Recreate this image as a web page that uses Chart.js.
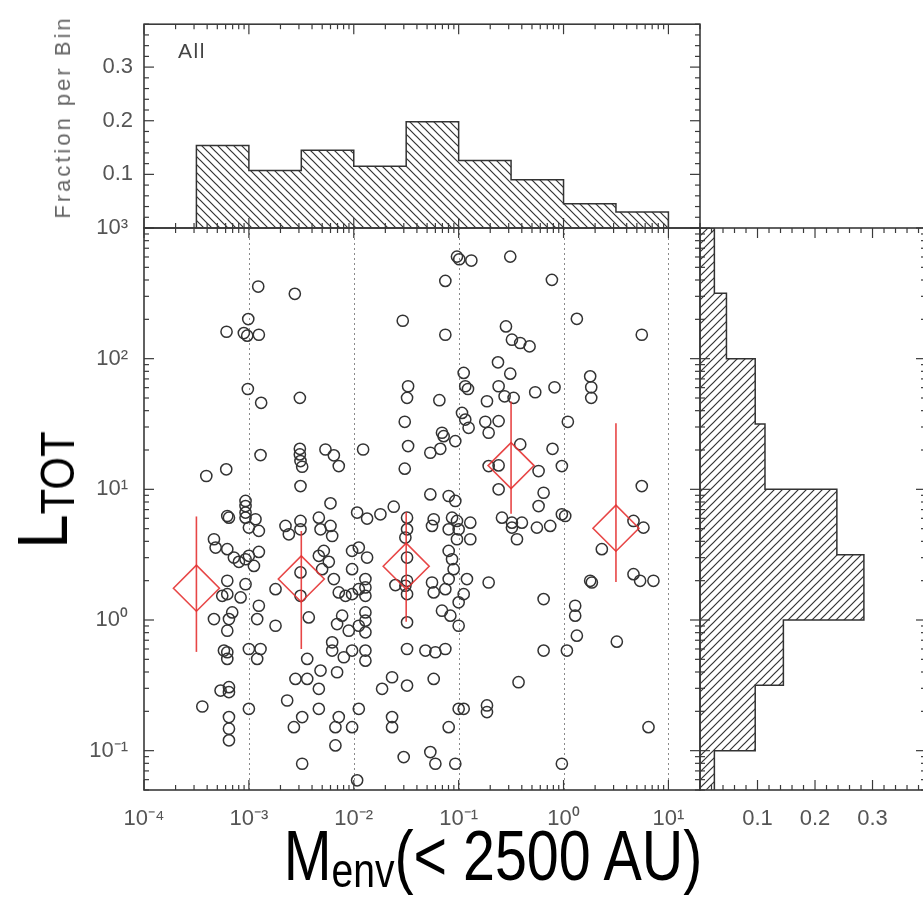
<!DOCTYPE html>
<html>
<head>
<meta charset="utf-8">
<script src="https://cdn.jsdelivr.net/npm/chart.js@4.4.1/dist/chart.umd.min.js"></script>
<style>
  html, body { margin: 0; padding: 0; background: #fff; }
  #wrap { position: relative; width: 923px; height: 910px; overflow: hidden; background: #fff; }
  #wrap canvas { position: absolute; left: 0; top: 0; }
  .lbl { position: absolute; white-space: nowrap; line-height: 1; font-family: 'Liberation Sans', Arial, sans-serif; }
  .sub { font-size: 0.68em; position: relative; top: 0.14em; }
  #allLbl { left: 178px; top: 40px; font-size: 21px; letter-spacing: 1.5px; color: #444; }
  #fracLbl { left: 63px; top: 117px; font-size: 22px; letter-spacing: 3px; color: #666;
             transform: translate(-50%, -50%) rotate(-90deg); }
  #yTitle { left: 43px; top: 490px; font-size: 70px; color: #000;
            transform: translate(-50%, -50%) rotate(-90deg) scaleX(0.88); }
  #xTitle { left: 493px; top: 821px; font-size: 70px; color: #000;
            transform: translateX(-50%) scaleX(0.82); }
</style>
</head>
<body>
<div id="wrap">
  <canvas id="topChart" width="923" height="910"></canvas>
  <canvas id="mainChart" width="923" height="910"></canvas>
  <canvas id="rightChart" width="930" height="910"></canvas>
  <div class="lbl" id="allLbl">All</div>
  <div class="lbl" id="fracLbl">Fraction per Bin</div>
  <div class="lbl" id="yTitle">L<span class="sub">TOT</span></div>
  <div class="lbl" id="xTitle">M<span class="sub">env</span>(&lt; 2500 AU)</div>
</div>
<script>
// Точки: log10 Menv и log10 Ltot
const menvLog = [
  // верх слева
  -2.911, -2.562, -3.006, -3.213, -3.048, -3.016, -2.905, -3.010, -2.883, -2.514,
  -2.889, -2.514, -2.514, -2.508, -2.492, -2.270, -2.190, -2.143, -1.911, -3.216,
  -3.406,
  // верх справа
  -1.016, -0.994, -0.879, -0.508, -1.127, -0.111, -1.533, -1.127, 0.127, 0.746,
  -0.549, -0.492, -0.413, -0.324, -0.625, -0.508, -0.952, -0.937, -0.911, -1.482,
  -1.492, -1.184, -0.730, -0.619, -0.562, -0.476, -0.270, -0.086, 0.254, 0.264,
  0.264, -1.514, -0.968, -0.937, -0.905, -0.746, -0.714, -0.619, 0.041, -1.159,
  -1.143, -1.032, -1.270, -1.175, -1.482, -1.514, -0.714, -0.619, -0.413, -0.105,
  -0.016, -0.238,
  // низ слева
  -2.508, -2.222, -3.032, -3.032, -3.032, -3.032, -3.206, -3.190, -2.937, -2.905,
  -3.000, -2.651, -2.619, -2.508, -2.508, -2.333, -2.317, -2.222, -2.206, -1.968,
  -1.873, -1.746, -1.619, -3.333, -3.317, -3.206, -3.143, -3.095, -3.032, -3.000,
  -2.952, -2.905, -2.333, -2.286, -2.238, -2.302, -2.190, -2.016, -1.952, -1.873,
  -2.016, -1.889, -3.206, -3.032, -3.254, -3.206, -3.079, -2.746, -2.508, -2.508,
  -2.429, -2.143, -2.079, -2.016, -1.952, -1.889, -1.889, -2.905, -2.921, -3.333,
  -3.159, -3.190, -3.206, -2.746, -2.159, -2.111, -2.048, -1.952, -1.889, -1.889,
  -1.889, -3.238, -3.206, -3.206, -3.000, -2.889, -2.921, -2.206, -2.206, -2.095,
  -2.016, -1.889, -1.889, -2.444, -2.556, -2.444, -2.317, -2.333, -2.159, -3.270,
  -3.190, -3.190, -3.444, -3.000, -2.635, -2.492, -2.571, -2.333, -2.143, -2.175,
  -2.016, -1.952, -2.175, -3.190, -3.190, -3.190, -2.492, -1.968, -1.492, -1.492,
  -1.508, -1.492, -1.492, -1.508, -1.492, -1.492, -1.492, -1.603, -1.317, -1.222,
  -1.635, -1.730, -1.492, -1.635, -1.635, -1.524, -1.270, -1.222, -1.238, -1.254,
  -1.238, -1.254, -1.238, -1.270,
  // низ справа
  -1.095, -1.032, -1.063, -1.016, -1.095, -1.000, -0.889, -1.016, -0.889, -1.095,
  -1.063, -1.048, -1.095, -0.921, -1.127, -0.952, -1.000, -1.159, -1.079, -1.000,
  -0.714, -0.619, -0.587, -0.492, -0.492, -0.397, -0.444, -0.254, -0.127, -0.238,
  -0.190, -0.016, 0.016, -0.190, 0.032, -0.190, 0.111, 0.111, 0.127, -0.429,
  -1.000, -0.952, -0.730, -0.730, -1.095, -1.032, -0.016, 0.365, 0.254, 0.270,
  0.667, 0.762, 0.746, 0.667, 0.730, 0.857, 0.508, 0.810, -1.127
];
const ltotLog = [
  2.552, 2.496, 2.303, 2.206, 2.196, 2.176, 2.183, 1.768, 1.662, 1.700,
  1.262, 1.310, 1.267, 1.216, 1.173, 1.305, 1.260, 1.178, 1.305, 1.153,
  1.102,
  2.781, 2.761, 2.751, 2.781, 2.595, 2.603, 2.290, 2.183, 2.305, 2.183,
  2.247, 2.145, 2.120, 2.094, 1.972, 1.885, 1.891, 1.789, 1.768, 1.789,
  1.700, 1.682, 1.674, 1.789, 1.712, 1.700, 1.743, 1.781, 1.865, 1.781,
  1.700, 1.517, 1.585, 1.534, 1.471, 1.517, 1.433, 1.522, 1.517, 1.433,
  1.407, 1.369, 1.280, 1.310, 1.331, 1.158, 1.178, 1.183, 1.344, 1.310,
  1.178, 1.140,
  1.025, 0.893, 0.911, 0.872, 0.822, 0.783, 0.796, 0.783, 0.771, 0.682,
  0.707, 0.720, 0.656, 0.758, 0.694, 0.783, 0.694, 0.720, 0.643, 0.822,
  0.776, 0.809, 0.867, 0.618, 0.554, 0.542, 0.478, 0.445, 0.465, 0.491,
  0.414, 0.521, 0.491, 0.529, 0.445, 0.389, 0.313, 0.529, 0.554, 0.478,
  0.389, 0.313, 0.300, 0.274, 0.185, 0.198, 0.173, 0.236, 0.364, 0.185,
  0.020, 0.211, 0.185, 0.198, 0.236, 0.185, 0.249, 0.109, 0.007, 0.007,
  0.058, 0.007, -0.082, -0.044, -0.031, 0.033, -0.082, -0.044, 0.058, -0.005,
  -0.094, -0.234, -0.247, -0.298, -0.222, -0.222, -0.298, -0.171, -0.234, -0.285,
  -0.234, -0.234, -0.311, -0.298, -0.451, -0.451, -0.387, -0.527, -0.400, -0.540,
  -0.514, -0.552, -0.662, -0.680, -0.616, -0.743, -0.820, -0.680, -0.743, -0.820,
  -0.820, -0.680, -0.960, -0.743, -0.832, -0.921, -1.100, -1.227, 0.783, 0.694,
  0.631, 0.478, 0.300, 0.262, 0.198, -0.018, -0.222, 0.267, -0.234, -0.247,
  -0.438, -0.527, -0.502, -0.743, -0.820, -1.049, -1.011, -1.100, -0.451, 0.287,
  0.211, 0.720, 0.771, 0.961,
  0.949, 0.911, 0.783, 0.758, 0.694, 0.694, 0.745, 0.618, 0.618, 0.529,
  0.465, 0.389, 0.313, 0.313, 0.236, 0.198, 0.135, 0.071, 0.033, -0.044,
  0.287, 1.000, 0.783, 0.745, 0.707, 0.745, 0.618, 0.707, 0.720, 0.872,
  0.974, 0.809, 0.796, 0.160, -0.234, -0.234, 0.109, 0.033, -0.120, -0.476,
  -0.680, -0.680, -0.654, -0.705, -0.820, -1.100, -1.100, 0.542, 0.300, 0.287,
  0.758, 0.707, 1.025, 0.351, 0.300, 0.300, -0.166, -0.820, -0.222
];

// Медианы по бинам (красные ромбы) и разброс
const binCentres = [3.16e-4, 3.16e-3, 0.0316, 0.316, 3.16];
const medianL = [1.75, 2.06, 2.58, 15.2, 5.04];
const errLow = [0.57, 0.60, 0.97, 6.5, 1.95];
const errHigh = [6.2, 4.8, 6.7, 47, 32];

// Гистограммы
const mBinEdges = [3.16e-4, 1e-3, 3.16e-3, 1e-2, 3.16e-2, 0.1, 0.316, 1, 3.16, 10];
const mFraction = [0.154, 0.107, 0.145, 0.115, 0.198, 0.126, 0.090, 0.045, 0.030];
const lBinEdges = [0.0316, 0.1, 0.316, 1, 3.16, 10, 31.6, 100, 316, 1000];
const lFraction = [0.025, 0.096, 0.145, 0.285, 0.238, 0.113, 0.096, 0.046, 0.025];

// Подписи осей
const xTickValues = [1e-4, 1e-3, 1e-2, 1e-1, 1, 10];
const xTickLabels = ['10⁻⁴', '10⁻³', '10⁻²', '10⁻¹', '10⁰', '10¹'];
const yTickValues = [0.1, 1, 10, 100, 1000];
const yTickLabels = ['10⁻¹', '10⁰', '10¹', '10²', '10³'];
const fracTickValues = [0.1, 0.2, 0.3];
const fracTickLabels = ['0.1', '0.2', '0.3'];
const gridDecades = [1e-3, 1e-2, 1e-1, 1, 10];

const ink = '#333';
const red = 'rgba(228, 50, 50, 0.9)';
const tickFont = { family: "'Liberation Sans', Arial, sans-serif", size: 22 };
const tickColor = '#555';

// Штриховка
function hatch(canvasId, dir) {
  const c = document.createElement('canvas');
  c.width = 8; c.height = 8;
  const g = c.getContext('2d');
  g.strokeStyle = ink;
  g.lineWidth = 1.2;
  g.beginPath();
  if (dir === 'down') {
    g.moveTo(-1, -1); g.lineTo(9, 9);
    g.moveTo(-1, 7); g.lineTo(1, 9);
    g.moveTo(7, -1); g.lineTo(9, 1);
  } else {
    g.moveTo(-1, 9); g.lineTo(9, -1);
    g.moveTo(-1, 1); g.lineTo(1, -1);
    g.moveTo(7, 9); g.lineTo(9, 7);
  }
  g.stroke();
  return document.getElementById(canvasId).getContext('2d').createPattern(c, 'repeat');
}

// Засечки внутрь рамки в стиле IDL
function tickMarks(scale, minorStep, majorStep) {
  const out = [];
  if (scale.type === 'logarithmic') {
    const lo = Math.floor(Math.log10(scale.min));
    const hi = Math.ceil(Math.log10(scale.max));
    for (let e = lo; e <= hi; e++) {
      for (let k = 1; k <= 9; k++) {
        const v = k * Math.pow(10, e);
        if (v >= scale.min * 0.9999 && v <= scale.max * 1.0001) {
          out.push({ px: scale.getPixelForValue(v), major: k === 1 });
        }
      }
    }
  } else {
    const n = Math.floor((scale.max - scale.min) / minorStep + 1e-6);
    for (let i = 0; i <= n; i++) {
      const v = scale.min + i * minorStep;
      const r = v / majorStep;
      out.push({ px: scale.getPixelForValue(v), major: Math.abs(r - Math.round(r)) < 1e-6 });
    }
  }
  return out;
}

const idlFrame = {
  id: 'idlFrame',
  beforeDatasetsDraw(chart, args, opts) {
    if (!opts.decades) return;
    const { ctx, chartArea: a } = chart;
    const xs = chart.scales.x;
    ctx.save();
    ctx.strokeStyle = '#8a8a8a';
    ctx.lineWidth = 1;
    ctx.setLineDash([2, 3]);
    opts.decades.forEach(v => {
      const px = Math.round(xs.getPixelForValue(v)) + 0.5;
      ctx.beginPath();
      ctx.moveTo(px, a.top);
      ctx.lineTo(px, a.bottom);
      ctx.stroke();
    });
    ctx.restore();
  },
  afterDatasetsDraw(chart, args, opts) {
    const { ctx, chartArea: a, scales } = chart;
    const seg = (x1, y1, x2, y2) => {
      ctx.beginPath(); ctx.moveTo(x1, y1); ctx.lineTo(x2, y2); ctx.stroke();
    };
    ctx.save();
    ctx.strokeStyle = '#3a3a3a';
    ctx.lineWidth = 1.2;
    tickMarks(scales.x, opts.xMinor, opts.xMajor).forEach(t => {
      const l = t.major ? 10 : 5;
      seg(t.px, a.bottom, t.px, a.bottom - l);
      seg(t.px, a.top, t.px, a.top + l);
    });
    tickMarks(scales.y, opts.yMinor, opts.yMajor).forEach(t => {
      const l = t.major ? 10 : 5;
      seg(a.left, t.px, a.left + l, t.px);
      seg(a.right, t.px, a.right - l, t.px);
    });
    ctx.lineWidth = 1.6;
    ctx.strokeRect(a.left, a.top, a.right - a.left, a.bottom - a.top);
    ctx.restore();
  }
};

const baseOptions = {
  responsive: false,
  animation: false,
  events: [],
  plugins: { legend: { display: false }, tooltip: { enabled: false } }
};

// Верхняя гистограмма
const topSteps = [{ x: mBinEdges[0], y: 0 }];
mFraction.forEach((f, i) => {
  topSteps.push({ x: mBinEdges[i], y: f });
  topSteps.push({ x: mBinEdges[i + 1], y: f });
});
topSteps.push({ x: mBinEdges[mBinEdges.length - 1], y: 0 });

new Chart(document.getElementById('topChart'), {
  type: 'line',
  data: {
    datasets: [{
      data: topSteps,
      borderColor: ink,
      borderWidth: 1.5,
      pointRadius: 0,
      fill: 'origin',
      backgroundColor: hatch('topChart', 'down')
    }]
  },
  options: {
    ...baseOptions,
    layout: { padding: { left: 0, top: 8, right: 223, bottom: 682 } },
    plugins: { ...baseOptions.plugins, idlFrame: { yMinor: 0.02, yMajor: 0.1 } },
    scales: {
      x: { type: 'logarithmic', min: 1e-4, max: 20, display: false },
      y: {
        type: 'linear', min: 0, max: 0.38,
        afterFit: s => { s.width = 144; },
        afterBuildTicks: s => { s.ticks = fracTickValues.map(v => ({ value: v })); },
        grid: { display: false, drawTicks: false },
        border: { display: false },
        ticks: { callback: (v, i) => fracTickLabels[i], font: tickFont, color: tickColor, padding: 11 }
      }
    }
  },
  plugins: [idlFrame]
});

// Основная диаграмма рассеяния
const points = menvLog.map((m, i) => ({ x: Math.pow(10, m), y: Math.pow(10, ltotLog[i]) }));
const errorBars = binCentres.map((x, i) => ({
  data: [{ x: x, y: errLow[i] }, { x: x, y: errHigh[i] }],
  showLine: true,
  borderColor: red,
  borderWidth: 1.6,
  pointRadius: 0,
  order: 0
}));

new Chart(document.getElementById('mainChart'), {
  type: 'scatter',
  data: {
    datasets: [
      {
        data: binCentres.map((x, i) => ({ x: x, y: medianL[i] })),
        pointStyle: 'rectRot',
        pointRadius: 23,
        borderColor: red,
        borderWidth: 1.6,
        backgroundColor: 'rgba(0,0,0,0)',
        order: 0
      },
      ...errorBars,
      {
        data: points,
        pointStyle: 'circle',
        pointRadius: 5.6,
        borderColor: ink,
        borderWidth: 1.5,
        backgroundColor: 'rgba(0,0,0,0)',
        order: 1
      }
    ]
  },
  options: {
    ...baseOptions,
    layout: { padding: { left: 0, top: 228, right: 223, bottom: 0 } },
    plugins: { ...baseOptions.plugins, idlFrame: { decades: gridDecades } },
    scales: {
      x: {
        type: 'logarithmic', min: 1e-4, max: 20,
        afterFit: s => { s.height = 120; },
        afterBuildTicks: s => { s.ticks = xTickValues.map(v => ({ value: v })); },
        grid: { display: false, drawTicks: false },
        border: { display: false },
        ticks: { callback: (v, i) => xTickLabels[i], font: tickFont, color: tickColor, padding: 16, maxRotation: 0, autoSkip: false }
      },
      y: {
        type: 'logarithmic', min: 0.05, max: 1000,
        afterFit: s => { s.width = 144; },
        afterBuildTicks: s => { s.ticks = yTickValues.map(v => ({ value: v })); },
        grid: { display: false, drawTicks: false },
        border: { display: false },
        ticks: { callback: (v, i) => yTickLabels[i], font: tickFont, color: tickColor, padding: 16, autoSkip: false }
      }
    }
  },
  plugins: [idlFrame]
});

// Правая гистограмма (горизонтальная)
const rightSteps = [{ x: 0, y: lBinEdges[0] }];
lFraction.forEach((f, i) => {
  rightSteps.push({ x: f, y: lBinEdges[i] });
  rightSteps.push({ x: f, y: lBinEdges[i + 1] });
});
rightSteps.push({ x: 0, y: lBinEdges[lBinEdges.length - 1] });

new Chart(document.getElementById('rightChart'), {
  type: 'line',
  data: {
    datasets: [{
      data: rightSteps,
      borderColor: ink,
      borderWidth: 1.5,
      pointRadius: 0,
      fill: 'origin',
      backgroundColor: hatch('rightChart', 'up')
    }]
  },
  options: {
    ...baseOptions,
    indexAxis: 'y',
    layout: { padding: { left: 700, top: 228, right: 4, bottom: 0 } },
    plugins: { ...baseOptions.plugins, idlFrame: { xMinor: 0.02, xMajor: 0.1 } },
    scales: {
      x: {
        type: 'linear', position: 'bottom', min: 0, max: 0.393,
        afterFit: s => { s.height = 120; },
        afterBuildTicks: s => { s.ticks = fracTickValues.map(v => ({ value: v })); },
        grid: { display: false, drawTicks: false },
        border: { display: false },
        ticks: { callback: (v, i) => fracTickLabels[i], font: tickFont, color: tickColor, padding: 16, maxRotation: 0, autoSkip: false }
      },
      y: { type: 'logarithmic', position: 'left', min: 0.05, max: 1000, display: false }
    }
  },
  plugins: [idlFrame]
});
</script>
</body>
</html>
